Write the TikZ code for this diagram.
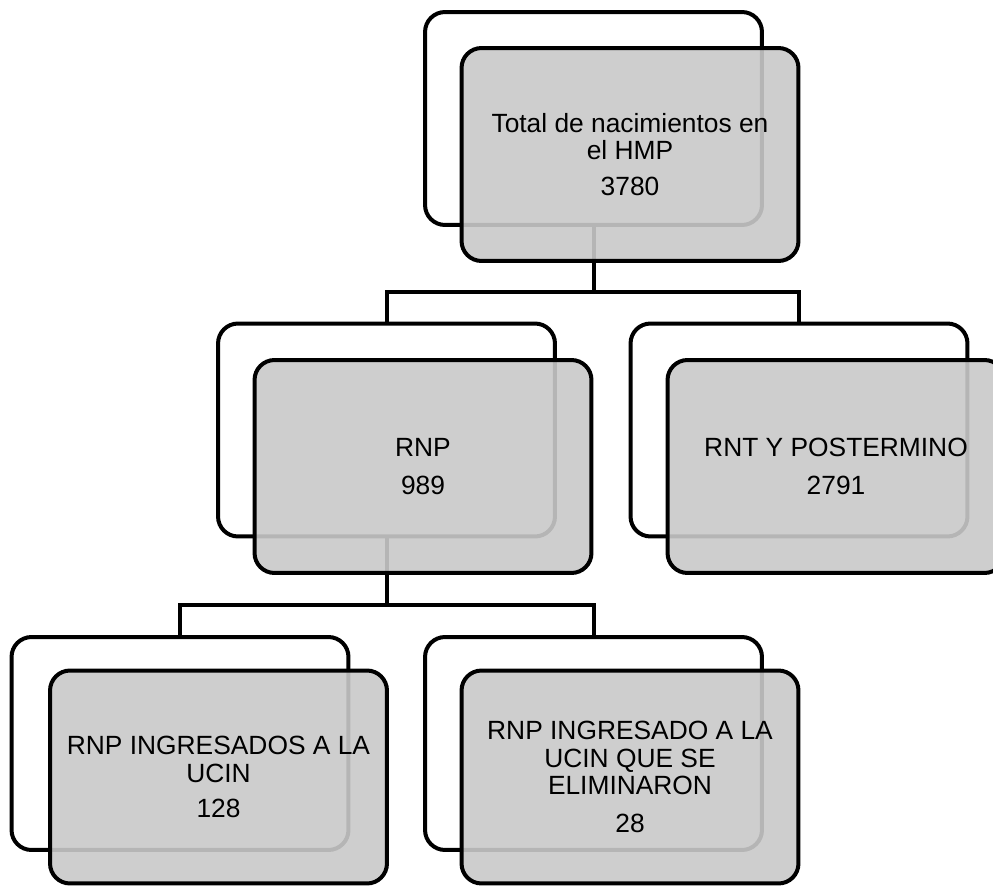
\documentclass[tikz,border=0pt]{standalone}
\usepackage{fontspec}
\setmainfont{Liberation Sans}

\definecolor{cajagris}{gray}{0.79}

\tikzset{
    fondo/.style={draw, line width=0.08cm, rounded corners=0.4cm, fill=white,
        minimum width=6.74cm, minimum height=4.26cm, inner sep=0pt, outer sep=0pt},
    frente/.style={fondo, fill=cajagris, fill opacity=0.9, text opacity=1,
        align=center, font=\fontsize{15}{15.8}\selectfont},
    enlace/.style={line width=0.08cm},
}

\begin{document}
\begin{tikzpicture}[x=0.02cm, y=-0.02cm]
    \useasboundingbox (0,0) rectangle (993,885);

    % Cajas de fondo (blancas)
    \node[fondo] (totalback) at (593.5,118.5) {};
    \node[fondo] (rnpback) at (386.5,430) {};
    \node[fondo] (rntback) at (799,430) {};
    \node[fondo] (ucinback) at (180,743.5) {};
    \node[fondo] (elimback) at (593.5,743.5) {};

    % Lineas de union
    \coordinate (bus1) at (0,292);
    \coordinate (bus2) at (0,605);
    \draw[enlace] (totalback.south) -- (totalback.south |- bus1) -| (rnpback.north);
    \draw[enlace] (totalback.south |- bus1) -| (rntback.north);
    \draw[enlace] (rnpback.south) -- (rnpback.south |- bus2) -| (ucinback.north);
    \draw[enlace] (rnpback.south |- bus2) -| (elimback.north);

    % Cajas grises con los datos
    \node[frente] (total) at (630,154.5) {Total de nacimientos en\\el HMP\\[0.16cm]3780};
    \node[frente] (rnp) at (423,466.5) {RNP\\[0.2cm]989};
    \node[frente] (rnt) at (836,466.5) {RNT Y POSTERMINO\\[0.2cm]2791};
    \node[frente] (ucin) at (218.5,777) {RNP INGRESADOS A LA\\UCIN\\[0.16cm]128};
    \node[frente] (elim) at (630,777) {RNP INGRESADO A LA\\UCIN QUE SE\\ELIMINARON\\[0.2cm]28};
\end{tikzpicture}
\end{document}
